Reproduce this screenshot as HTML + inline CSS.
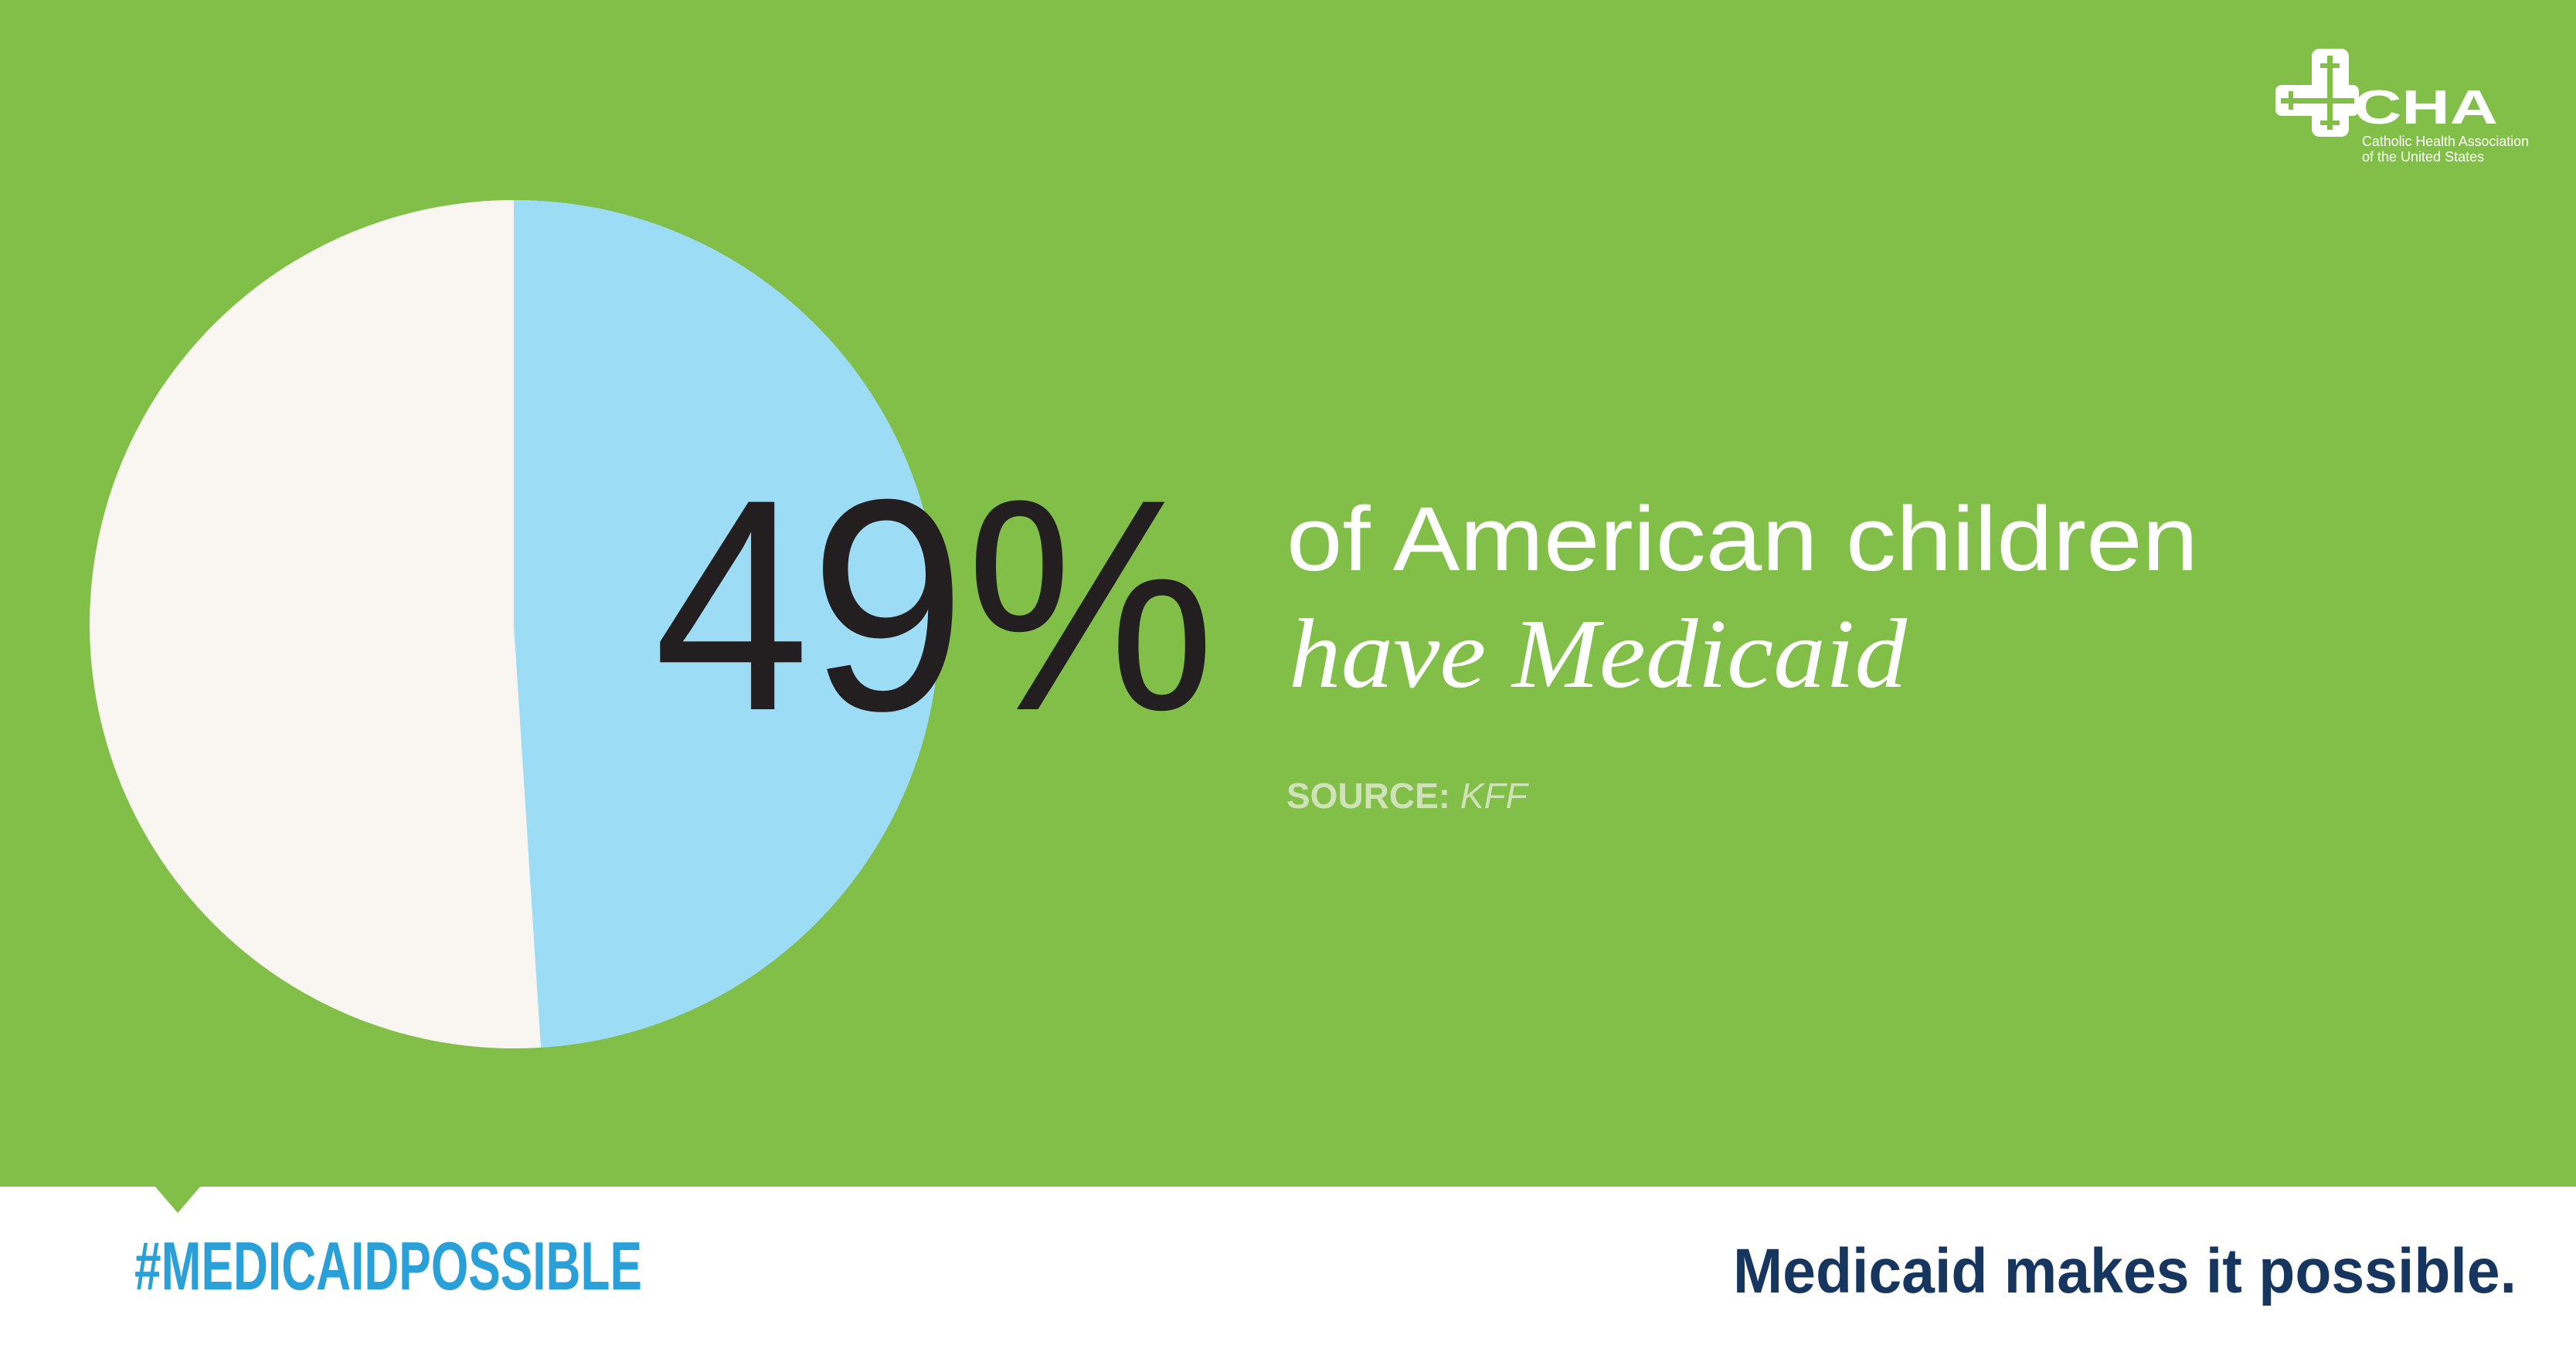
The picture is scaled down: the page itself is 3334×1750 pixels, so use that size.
<!DOCTYPE html>
<html><head><meta charset="utf-8"><style>html,body{margin:0;padding:0;background:#fff}svg{display:block}</style></head>
<body>
<svg width="3334" height="1750" viewBox="0 0 3334 1750" xmlns="http://www.w3.org/2000/svg">
<rect x="0" y="0" width="3334" height="1750" fill="#ffffff"/>
<rect x="0" y="0" width="3334" height="1536" fill="#81bf48"/>
<polygon points="200,1535 260,1535 230,1570" fill="#81bf48"/>
<circle cx="665" cy="808" r="549" fill="#f9f5f1"/>
<path d="M665,808 L665,259 A549,549 0 0 1 700,1356 Z" fill="#9ddcf5"/>
<text x="846" y="918" font-family="Liberation Sans, sans-serif" font-size="390" fill="#231f20" stroke="#81bf48" stroke-width="0" textLength="727" lengthAdjust="spacingAndGlyphs">49%</text>
<text x="1665" y="738" font-family="Liberation Sans, sans-serif" font-size="118" fill="#ffffff" textLength="1180" lengthAdjust="spacingAndGlyphs">of American children</text>
<text x="1668" y="889" font-family="Liberation Serif, serif" font-style="italic" font-size="128" fill="#ffffff" textLength="800" lengthAdjust="spacingAndGlyphs">have Medicaid</text>
<text x="1665" y="1046" font-family="Liberation Sans, sans-serif" font-size="46" fill="#cfe2b8"><tspan font-weight="bold">SOURCE:</tspan><tspan font-style="italic"> KFF</tspan></text>
<text x="174" y="1669" font-family="Liberation Sans Narrow, Liberation Sans, sans-serif" font-weight="bold" font-size="88" fill="#2aa0d8" textLength="657" lengthAdjust="spacingAndGlyphs">#MEDICAIDPOSSIBLE</text>
<text x="2243" y="1673" font-family="Liberation Sans, sans-serif" font-weight="bold" font-size="82" fill="#17365f" textLength="1014" lengthAdjust="spacingAndGlyphs">Medicaid makes it possible.</text>
<g fill="#ffffff">
<rect x="2992" y="63" width="48" height="114" rx="10"/>
<rect x="2945" y="110" width="108" height="40" rx="8"/>
<g fill="#81bf48">
<rect x="3012" y="72" width="7" height="96"/>
<rect x="2952" y="127" width="95" height="7"/>
<rect x="3003" y="82" width="25" height="6"/>
<rect x="3003" y="156" width="25" height="6"/>
<rect x="2962" y="118" width="6" height="24"/>
</g>
<text x="3046" y="160" font-family="Liberation Sans, sans-serif" font-weight="bold" font-size="62" textLength="187" lengthAdjust="spacingAndGlyphs">CHA</text>
<text x="3057" y="189" font-family="Liberation Sans, sans-serif" font-size="18" textLength="216" lengthAdjust="spacingAndGlyphs">Catholic Health Association</text>
<text x="3057" y="209" font-family="Liberation Sans, sans-serif" font-size="18">of the United States</text>
</g>
</svg>
</body></html>
